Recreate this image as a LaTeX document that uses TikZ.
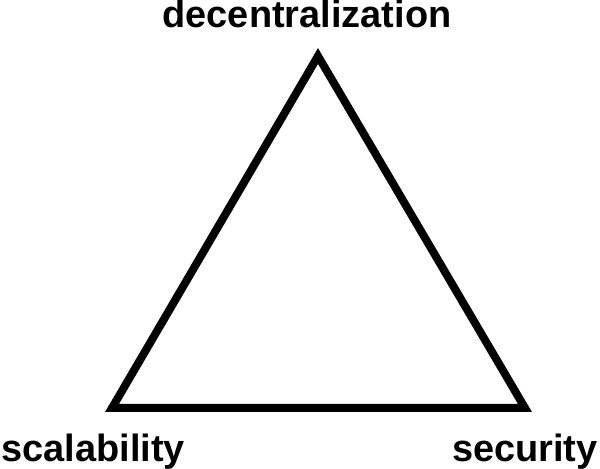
\documentclass[tikz,border=0pt]{standalone}
\usepackage{fontspec}
\setmainfont{Liberation Sans}
\usetikzlibrary{positioning}

\begin{document}
\begin{tikzpicture}[x=0.02cm, y=-0.02cm, edge/.style = {line width=8*0.02cm, line join=miter}, lbl/.style = {inner sep=0pt, font=\fontsize{21.6}{24}\selectfont\bfseries}]
          \useasboundingbox (0,0) rectangle (600,469);
          \coordinate (top) at (318,56);
          \coordinate (left) at (112,408);
          \coordinate (right) at (525,408);

          \draw[edge] (top) -- (left) -- (right) -- cycle;

          \node[lbl, anchor=base] (dec) at (307,28) {decentralization};
          \node[lbl, anchor=base west] (sca) at (1,462) {scalability};
          \node[lbl, anchor=base east] (sec) at (598,462) {security};
        \end{tikzpicture}
\end{document}
